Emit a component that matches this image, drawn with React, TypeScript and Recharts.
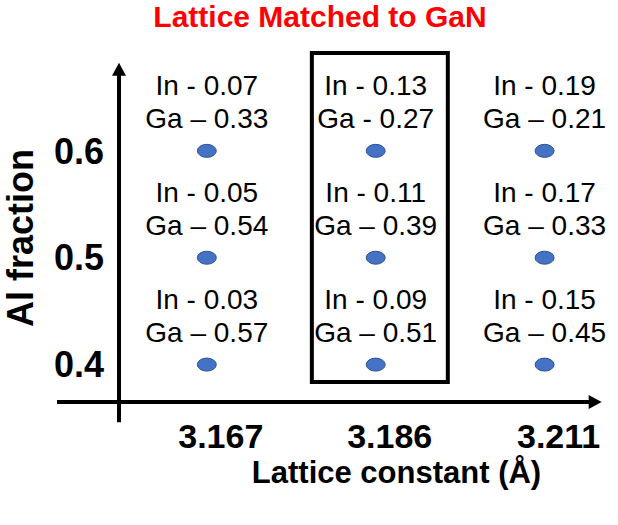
import React from "react";
import {
  ScatterChart,
  Scatter,
  XAxis,
  YAxis,
  ReferenceLine,
  ReferenceArea,
  Label,
} from "recharts";

// ---- data ----
const latticeConstants = ["3.167", "3.186", "3.211"];
const alFractions = [0.4, 0.5, 0.6];
const inLabels3167 = ["In - 0.03", "In - 0.05", "In - 0.07"];
const gaLabels3167 = ["Ga \u2013 0.57", "Ga \u2013 0.54", "Ga \u2013 0.33"];
const inLabels3186 = ["In - 0.09", "In - 0.11", "In - 0.13"];
const gaLabels3186 = ["Ga \u2013 0.51", "Ga \u2013 0.39", "Ga - 0.27"];
const inLabels3211 = ["In - 0.15", "In - 0.17", "In - 0.19"];
const gaLabels3211 = ["Ga \u2013 0.45", "Ga \u2013 0.33", "Ga \u2013 0.21"];
const yTicks = [0.4, 0.5, 0.6];
const title = "Lattice Matched to GaN";
const xTitle = "Lattice constant (\u00C5)";
const yTitle = "Al fraction";

const inByColumn = [inLabels3167, inLabels3186, inLabels3211];
const gaByColumn = [gaLabels3167, gaLabels3186, gaLabels3211];

const points = latticeConstants.flatMap((lc, ci) =>
  alFractions.map((al, ri) => ({
    x: ci,
    y: al,
    lattice: lc,
    inLabel: inByColumn[ci][ri],
    gaLabel: gaByColumn[ci][ri],
  }))
);

const FONT = "Arial, 'Liberation Sans', sans-serif";

const PointShape = (props: any) => {
  const { cx, cy, payload } = props;
  return (
    <g>
      <ellipse cx={cx} cy={cy} rx={9.5} ry={6.5} fill="#4472C4" stroke="#2F528F" strokeWidth={1} />
      <text x={cx} y={cy - 56} textAnchor="middle" fontSize={28} fontFamily={FONT} fill="#000">
        {payload.inLabel}
      </text>
      <text x={cx} y={cy - 23} textAnchor="middle" fontSize={28} fontFamily={FONT} fill="#000">
        {payload.gaLabel}
      </text>
    </g>
  );
};

const ArrowLine = (props: any) => {
  const { x1, y1, x2, y2 } = props;
  const dx = x2 - x1;
  const dy = y2 - y1;
  const len = Math.hypot(dx, dy) || 1;
  const ux = dx / len;
  const uy = dy / len;
  const L = 13;
  const W = 7;
  const bx = x2 - ux * L;
  const by = y2 - uy * L;
  return (
    <g>
      <line x1={x1} y1={y1} x2={bx + ux} y2={by + uy} stroke="#000" strokeWidth={4} />
      <polygon
        points={`${x2},${y2} ${bx - uy * W},${by + ux * W} ${bx + uy * W},${by - ux * W}`}
        fill="#000"
      />
    </g>
  );
};

const XTick = (props: any) => {
  const { x, y, payload } = props;
  return (
    <text x={x + 14} y={y} dy="0.71em" textAnchor="middle" fontSize={34} fontWeight="bold" fontFamily={FONT} fill="#000">
      {latticeConstants[payload.value]}
    </text>
  );
};

const YTick = (props: any) => {
  const { x, y, payload } = props;
  return (
    <text x={x} y={y} dy="0.355em" textAnchor="end" fontSize={36} fontWeight="bold" fontFamily={FONT} fill="#000">
      {payload.value.toFixed(1)}
    </text>
  );
};

const XTitle = (props: any) => {
  const vb = props.viewBox || { x: 119, y: 402, width: 483, height: 60 };
  return (
    <text x={vb.x + vb.width / 2 + 36} y={vb.y + 81} textAnchor="middle" fontSize={31} fontWeight="bold" fontFamily={FONT} fill="#000">
      {xTitle}
    </text>
  );
};

const YTitle = (props: any) => {
  const vb = props.viewBox || { x: 59, y: 60, width: 60, height: 342 };
  const cx = vb.x - 39;
  const cy = vb.y + vb.height / 2 + 7;
  return (
    <text
      x={cx}
      y={cy}
      transform={`rotate(-90, ${cx}, ${cy})`}
      textAnchor="middle"
      dominantBaseline="central"
      fontSize={36}
      fontWeight="bold"
      fontFamily={FONT}
      fill="#000"
    >
      {yTitle}
    </text>
  );
};

export default function App() {
  return (
    <div style={{ position: "absolute", left: 0, top: 0, width: 618, height: 525, background: "#fff" }}>
      <div
        style={{
          position: "absolute",
          left: 320,
          top: 0,
          transform: "translateX(-50%)",
          whiteSpace: "nowrap",
          fontFamily: FONT,
          fontWeight: "bold",
          fontSize: 30,
          lineHeight: "normal",
          color: "#FF0000",
        }}
      >
        {title}
      </div>
      <ScatterChart width={618} height={525} margin={{ top: 60, right: 16, bottom: 63, left: 59 }}>
        <XAxis
          type="number"
          dataKey="x"
          domain={[-0.52, 2.34]}
          ticks={[0, 1, 2]}
          tick={<XTick />}
          axisLine={false}
          tickLine={false}
          tickSize={0}
          tickMargin={22}
          height={60}
        >
          <Label content={<XTitle />} />
        </XAxis>
        <YAxis
          type="number"
          dataKey="y"
          domain={[0.365, 0.685]}
          ticks={yTicks}
          tick={<YTick />}
          axisLine={false}
          tickLine={false}
          tickSize={0}
          tickMargin={15}
          width={60}
        >
          <Label content={<YTitle />} />
        </YAxis>
        <ReferenceArea
          x1={0.622}
          x2={1.427}
          y1={0.3837}
          y2={0.6916}
          fill="none"
          fillOpacity={0}
          stroke="#000"
          strokeWidth={4}
          ifOverflow="visible"
        />
        <ReferenceLine
          segment={[{ x: -0.887, y: 0.365 }, { x: 2.338, y: 0.365 }]}
          ifOverflow="visible"
          shape={ArrowLine}
        />
        <ReferenceLine
          segment={[{ x: -0.52, y: 0.346 }, { x: -0.52, y: 0.6825 }]}
          ifOverflow="visible"
          shape={ArrowLine}
        />
        <Scatter data={points} shape={PointShape} isAnimationActive={false} />
      </ScatterChart>
    </div>
  );
}
